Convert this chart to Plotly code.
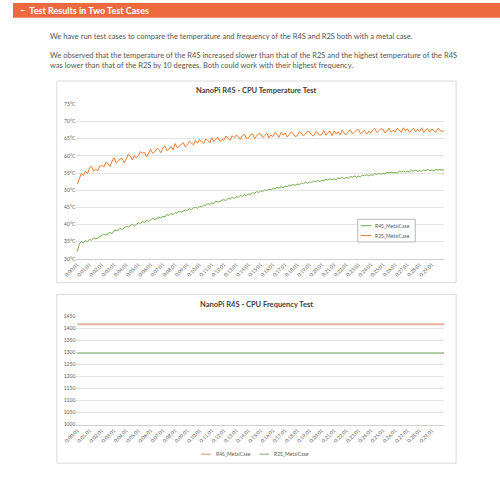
import plotly.graph_objects as go

# ---------------- data ----------------
SAMPLE_STEP_S = 10  # seconds between plotted samples
R2S_TEMP = [
    51.8, 53.6, 54.9, 54.2, 55.6, 54.8,
    56.6, 56.9, 55.5, 56.2, 55.6, 57.0,
    57.3, 56.7, 58.1, 57.8, 56.9, 58.4,
    59.5, 58.0, 58.4, 59.1, 59.3, 57.9,
    59.2, 60.4, 59.9, 58.8, 60.1, 59.4,
    60.1, 61.2, 60.8, 61.0, 59.7, 60.9,
    61.9, 60.7, 61.1, 62.2, 61.8, 60.9,
    62.4, 62.9, 61.5, 62.0, 62.8, 61.7,
    63.6, 62.4, 62.7, 63.4, 63.9, 62.6,
    63.1, 64.3, 63.8, 63.2, 64.5, 63.7,
    64.8, 64.0, 63.6, 64.9, 64.5, 63.8,
    65.3, 64.1, 65.0, 65.4, 64.2, 64.7,
    64.6, 65.8, 65.1, 64.5, 65.9, 65.3,
    66.1, 65.6, 64.8, 65.9, 66.3, 65.1,
    65.2, 66.2, 66.4, 65.0, 65.8, 66.5,
    66.4, 65.3, 65.9, 66.7, 65.2, 66.1,
    65.6, 66.8, 66.3, 65.4, 66.9, 66.0,
    66.7, 65.5, 66.2, 67.0, 66.5, 65.6,
    65.9, 67.1, 66.6, 65.8, 66.4, 67.2,
    67.0, 66.1, 65.8, 67.1, 66.7, 66.0,
    66.3, 67.4, 66.0, 66.8, 67.2, 65.9,
    67.3, 66.4, 67.0, 66.1, 67.5, 66.6,
    66.2, 67.1, 67.6, 66.4, 66.9, 67.5,
    67.7, 66.5, 66.9, 67.4, 66.3, 67.2,
    66.6, 67.6, 68.0, 66.8, 67.3, 67.9,
    67.8, 66.7, 67.2, 68.1, 66.9, 67.5,
    66.9, 68.0, 67.6, 66.8, 68.2, 67.3,
    67.9, 66.9, 67.4, 68.1, 67.0, 67.7,
    67.1, 68.2, 66.8, 67.6, 67.9, 66.9,
    67.8, 67.2, 66.9, 68.0, 67.4, 67.1,
    67.3,
]
R4S_TEMP = [
    32.1, 34.4, 35.0, 34.6, 35.3, 35.0,
    35.6, 35.4, 36.1, 35.8, 36.0, 36.5,
    36.7, 37.2, 36.9, 37.4, 37.7, 37.3,
    38.1, 38.4, 38.2, 38.9, 38.5, 39.0,
    39.4, 39.2, 39.8, 40.1, 39.6, 40.0,
    40.5, 40.3, 40.9, 40.6, 41.2, 40.9,
    41.3, 41.8, 41.4, 41.7, 42.2, 41.9,
    42.4, 42.2, 42.9, 42.6, 43.2, 42.9,
    43.5, 43.3, 43.9, 43.6, 43.8, 44.2,
    44.1, 44.6, 44.3, 44.8, 45.0, 44.7,
    45.3, 45.1, 45.7, 45.5, 46.1, 45.8,
    46.3, 46.1, 46.8, 46.5, 46.7, 47.1,
    47.2, 47.0, 47.6, 47.4, 47.9, 47.6,
    48.1, 47.9, 48.5, 48.2, 48.7, 48.4,
    48.9, 48.7, 49.3, 49.1, 49.6, 49.3,
    49.8, 49.6, 50.1, 49.9, 50.3, 50.1,
    50.5, 50.3, 50.8, 50.6, 51.0, 50.7,
    51.2, 51.0, 51.5, 51.3, 51.7, 51.4,
    51.8, 51.6, 52.1, 51.9, 52.3, 52.0,
    52.4, 52.2, 52.7, 52.5, 52.8, 52.5,
    52.9, 52.7, 53.2, 52.9, 53.3, 53.0,
    53.3, 53.1, 53.6, 53.4, 53.7, 53.4,
    53.7, 53.5, 54.0, 53.8, 54.1, 53.8,
    54.1, 53.9, 54.4, 54.2, 54.5, 54.2,
    54.5, 54.3, 54.8, 54.6, 54.9, 54.6,
    54.9, 54.7, 55.2, 55.0, 55.3, 55.0,
    55.2, 55.0, 55.5, 55.3, 55.6, 55.3,
    55.5, 55.3, 55.8, 55.5, 55.8, 55.5,
    55.7, 55.5, 55.9, 55.7, 56.0, 55.7,
    55.9, 55.6, 56.1, 55.8, 56.1, 55.8,
    56.0,
]
TIMES_S = [1 + SAMPLE_STEP_S * i for i in range(len(R4S_TEMP))]

FREQ_TIMES_S = [1, 1801]
R4S_FREQ = [1416, 1416]
R2S_FREQ = [1296, 1296]

TICK_LABELS = [
    "0:00:01", "0:01:01", "0:02:01", "0:03:01", "0:04:01", "0:05:01",
    "0:06:01", "0:07:01", "0:08:01", "0:09:01", "0:10:01", "0:11:01",
    "0:12:01", "0:13:01", "0:14:01", "0:15:01", "0:16:01", "0:17:01",
    "0:18:01", "0:19:01", "0:20:01", "0:21:01", "0:22:01", "0:23:01",
    "0:24:01", "0:25:01", "0:26:01", "0:27:01", "0:28:01", "0:29:01",
]
TEMP_TICKS = [30, 35, 40, 45, 50, 55, 60, 65, 70, 75]
FREQ_TICKS = [1000, 1050, 1100, 1150, 1200, 1250, 1300, 1350, 1400, 1450]


def to_seconds(label):
    h, m, s = (int(p) for p in label.split(":"))
    return h * 3600 + m * 60 + s


TICK_VALS = [to_seconds(t) for t in TICK_LABELS]

# ---------------- layout helpers ----------------
W, H = 500, 480


def px(x):
    return x / W


def py(y):
    return 1 - y / H


ORANGE = "#ED7D31"
GREEN = "#70AD47"
ORANGE_L = "#E3B39A"
GREEN_L = "#A8C99A"
GRID = "#E3E3E3"
TXT = "#595959"
CHART_FONT = "Lato"

fig = go.Figure()
fig.add_trace(go.Scatter(x=TIMES_S, y=R4S_TEMP, mode="lines", name="R4S_MetalCase",
                         line=dict(color=GREEN, width=1), xaxis="x", yaxis="y"))
fig.add_trace(go.Scatter(x=TIMES_S, y=R2S_TEMP, mode="lines", name="R2S_MetalCase",
                         line=dict(color=ORANGE, width=1), xaxis="x", yaxis="y"))
fig.add_trace(go.Scatter(x=FREQ_TIMES_S, y=R4S_FREQ, mode="lines", name="R4S_MetalCase",
                         line=dict(color=ORANGE_L, width=1.8), xaxis="x2", yaxis="y2"))
fig.add_trace(go.Scatter(x=FREQ_TIMES_S, y=R2S_FREQ, mode="lines", name="R2S_MetalCase",
                         line=dict(color=GREEN_L, width=1.8), xaxis="x2", yaxis="y2"))

xr = [-4, 1803]
xcommon = dict(range=xr, tickmode="array", tickvals=TICK_VALS, ticktext=TICK_LABELS,
               tickangle=-45, tickfont=dict(size=5, color=TXT, family=CHART_FONT),
               showgrid=False, zeroline=False, showline=True, linecolor="#D0D0D0",
               linewidth=1, ticks="")
ycommon = dict(showgrid=True, gridcolor=GRID, gridwidth=1, zeroline=False, showline=False,
               tickfont=dict(size=5, color=TXT, family=CHART_FONT), ticks="")

fig.update_layout(
    width=W, height=H, margin=dict(l=0, r=0, t=0, b=0),
    paper_bgcolor="white", plot_bgcolor="white", showlegend=False,
    xaxis=dict(domain=[px(65), px(443)], anchor="y", **xcommon),
    yaxis=dict(domain=[py(259), py(102.7)], range=[30, 75], tickmode="array",
               tickvals=TEMP_TICKS, ticktext=[f"{v}°C" for v in TEMP_TICKS],
               anchor="x", **ycommon),
    xaxis2=dict(domain=[px(65), px(443)], anchor="y2", **xcommon),
    yaxis2=dict(domain=[py(427), py(317)], range=[1000, 1450], tickmode="array",
                tickvals=FREQ_TICKS, ticktext=[str(v) for v in FREQ_TICKS],
                anchor="x2", **ycommon),
)

shapes = [
    # header bar
    dict(type="rect", xref="paper", yref="paper", x0=0, x1=1, y0=py(15), y1=1,
         fillcolor="#EE6A3E", line=dict(width=0), layer="below"),
    # chart boxes
    dict(type="rect", xref="paper", yref="paper", x0=px(45), x1=px(455), y0=py(283), y1=py(79),
         line=dict(color="#DADADA", width=1), fillcolor="rgba(0,0,0,0)", layer="below"),
    dict(type="rect", xref="paper", yref="paper", x0=px(45), x1=px(455), y0=py(466), y1=py(295),
         line=dict(color="#DADADA", width=1), fillcolor="rgba(0,0,0,0)", layer="below"),
    # legend 1 box
    dict(type="rect", xref="paper", yref="paper", x0=px(354), x1=px(413), y0=py(242), y1=py(219),
         line=dict(color="#A6A6A6", width=0.8), fillcolor="white"),
    dict(type="line", xref="paper", yref="paper", x0=px(357), x1=px(368), y0=py(225.5), y1=py(225.5),
         line=dict(color=GREEN, width=1)),
    dict(type="line", xref="paper", yref="paper", x0=px(357), x1=px(368), y0=py(235.5), y1=py(235.5),
         line=dict(color=ORANGE, width=1)),
    # legend 2
    dict(type="line", xref="paper", yref="paper", x0=px(193), x1=px(203), y0=py(457), y1=py(457),
         line=dict(color=ORANGE_L, width=1.5)),
    dict(type="line", xref="paper", yref="paper", x0=px(253), x1=px(263), y0=py(457), y1=py(457),
         line=dict(color=GREEN_L, width=1.5)),
]
fig.update_layout(shapes=shapes)

PAGE_FONT = "Lato"
anns = [
    dict(x=px(5), y=py(7.5), text="<b>−  Test Results in Two Test Cases</b>",
         font=dict(size=9, color="white", family=PAGE_FONT)),
    dict(x=px(36), y=py(33.5),
         text="We have run test cases to compare the temperature and frequency of the R4S and R2S both with a metal case.",
         font=dict(size=7.5, color="#555555", family=PAGE_FONT)),
    dict(x=px(36), y=py(53.5),
         text="We observed that the temperature of the R4S increased slower than that of the R2S and the highest temperature of the R4S",
         font=dict(size=7.5, color="#555555", family=PAGE_FONT)),
    dict(x=px(36), y=py(63),
         text="was lower than that of the R2S by 10 degrees. Both could work with their highest frequency.",
         font=dict(size=7.5, color="#555555", family=PAGE_FONT)),
    dict(x=px(250), y=py(89), xanchor="center", text="<b>NanoPi R4S - CPU Temperature Test</b>",
         font=dict(size=7.5, color="#404040", family=CHART_FONT)),
    dict(x=px(250), y=py(305), xanchor="center", text="<b>NanoPi R4S - CPU Frequency Test</b>",
         font=dict(size=7.5, color="#404040", family=CHART_FONT)),
    dict(x=px(370), y=py(225.5), text="R4S_MetalCase", font=dict(size=5, color=TXT, family=CHART_FONT)),
    dict(x=px(370), y=py(235.5), text="R2S_MetalCase", font=dict(size=5, color=TXT, family=CHART_FONT)),
    dict(x=px(206), y=py(457), text="R4S_MetalCase", font=dict(size=5, color=TXT, family=CHART_FONT)),
    dict(x=px(266), y=py(457), text="R2S_MetalCase", font=dict(size=5, color=TXT, family=CHART_FONT)),
]
for a in anns:
    a.setdefault("xanchor", "left")
    a.update(xref="paper", yref="paper", yanchor="middle", showarrow=False)
fig.update_layout(annotations=anns)

fig.write_html("out.html", config={"displayModeBar": False},
               post_script="document.body.style.margin='0';document.body.style.overflow='hidden';")
